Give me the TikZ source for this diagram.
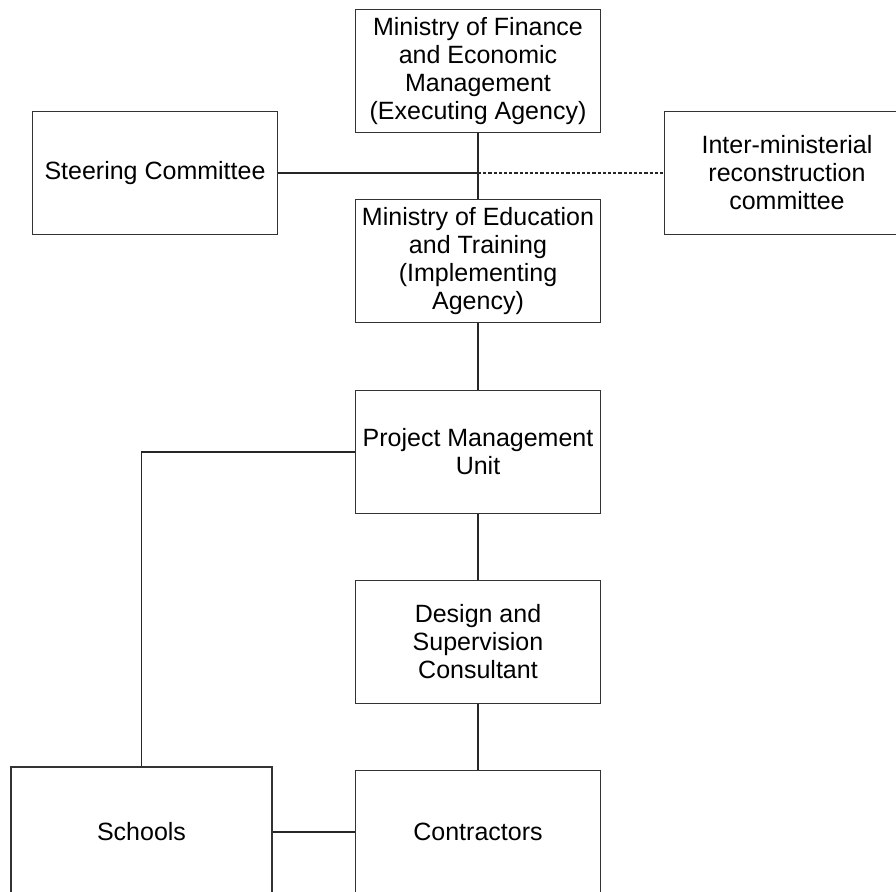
\documentclass[tikz,border=0pt]{standalone}
\usepackage{fontspec}
\setmainfont{Liberation Sans}
\begin{document}
\begin{tikzpicture}[x=0.5pt,y=-0.5pt,
  unit/.style={draw=black!80,line width=0.55pt,align=center,inner sep=0pt,
    minimum width=122.5pt,minimum height=61.5pt,
    font=\fontsize{12.5}{14}\selectfont},
  link/.style={draw=black!85,line width=0.55pt}]
\clip (0,0) rectangle (896,892);

\node[unit] (mof) at (478,71) {Ministry of Finance\\and Economic\\Management\\(Executing Agency)};
\node[unit] (moe) at (478,261) {Ministry of Education\\and Training\\(Implementing\\Agency)};
\node[unit] (stc) at (155,173) {Steering Committee};
\node[unit] (imc) at (787,173) {Inter-ministerial\\reconstruction\\committee};
\node[unit] (pmu) at (478,452) {Project Management\\Unit};
\node[unit] (dsc) at (478,642) {Design and\\Supervision\\Consultant};
\node[unit] (con) at (478,832) {Contractors};
\node[unit,minimum width=130.5pt,minimum height=65pt] (sch) at (141.5,832) {Schools};

\coordinate (hub) at (mof.south |- stc.east);
\draw[link] (mof) -- (moe);
\draw[link] (stc) -- (hub);
\draw[link,dash pattern=on 1.6pt off 1pt] (hub) -- (imc);
\draw[link] (moe) -- (pmu);
\draw[link] (pmu) -- (dsc);
\draw[link] (dsc) -- (con);
\draw[link] (pmu.west) -| (sch.north);
\draw[link] (sch) -- (con);
\end{tikzpicture}
\end{document}
